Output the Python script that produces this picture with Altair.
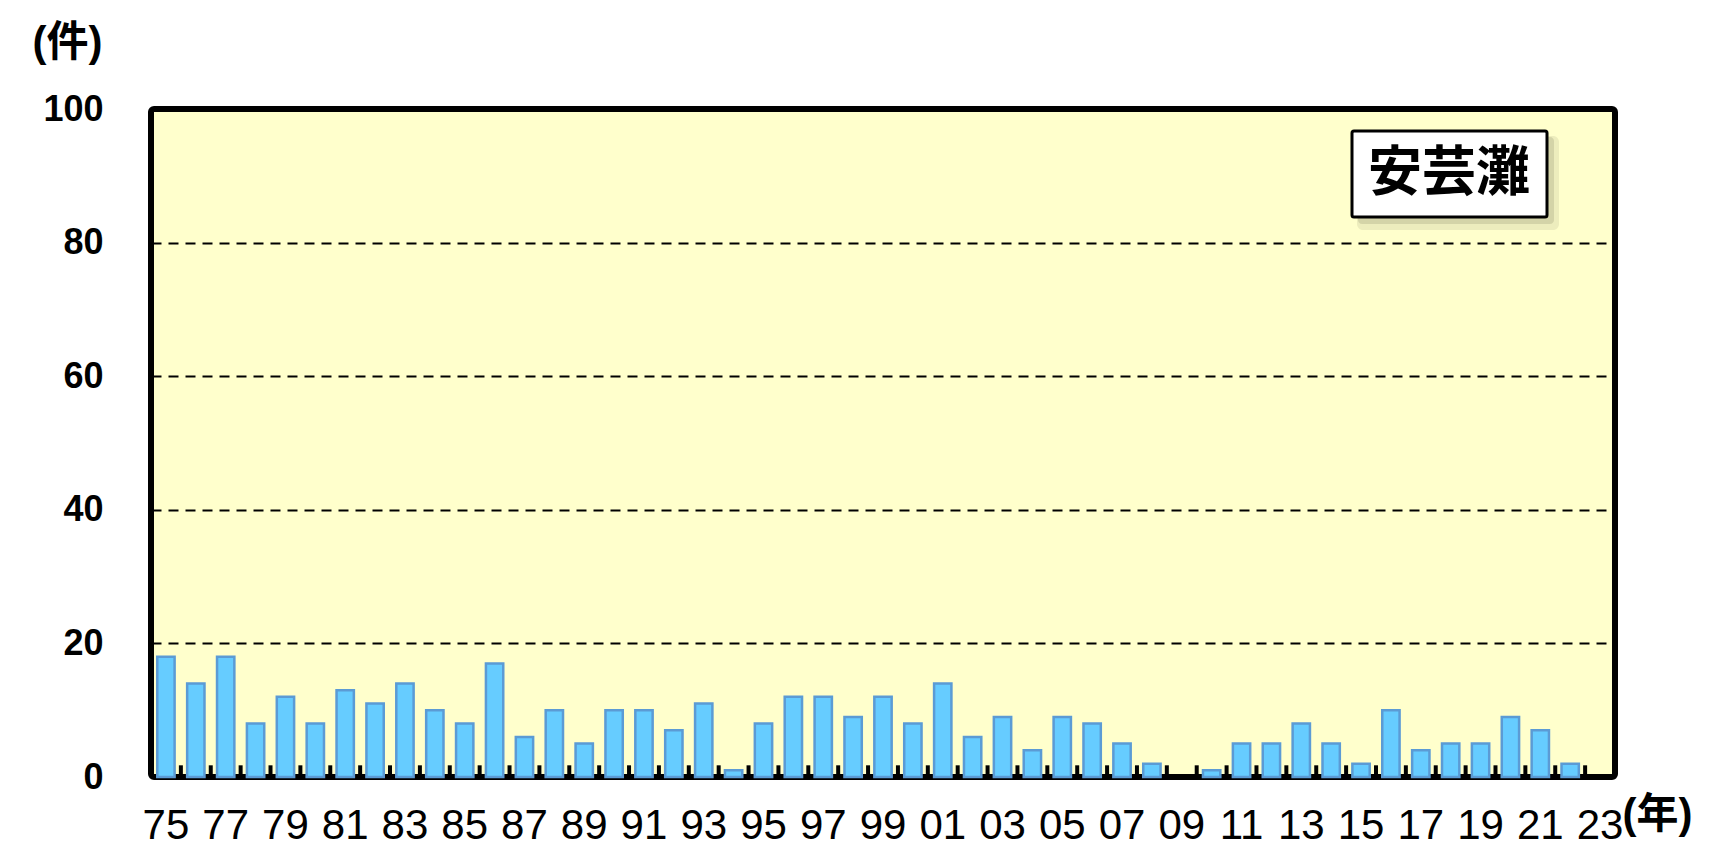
import altair as alt
import pandas as pd

years = ["75", "76", "77", "78", "79", "80", "81", "82", "83", "84",
         "85", "86", "87", "88", "89", "90", "91", "92", "93", "94",
         "95", "96", "97", "98", "99", "00", "01", "02", "03", "04",
         "05", "06", "07", "08", "09", "10", "11", "12", "13", "14",
         "15", "16", "17", "18", "19", "20", "21", "22", "23"]
counts = [18, 14, 18, 8, 12, 8, 13, 11, 14, 10,
          8, 17, 6, 10, 5, 10, 10, 7, 11, 1,
          8, 12, 12, 9, 12, 8, 14, 6, 9, 4,
          9, 8, 5, 2, 0, 1, 5, 5, 8, 5,
          2, 10, 4, 5, 5, 9, 7, 2, 0]
tick_labels = ["75", "77", "79", "81", "83", "85", "87", "89", "91", "93",
               "95", "97", "99", "01", "03", "05", "07", "09", "11", "13",
               "15", "17", "19", "21", "23"]
y_ticks = [0, 20, 40, 60, 80, 100]
area_name = "安芸灘"

W, H = 1464, 668
PAD_INNER = 0.42
STEP = W / len(years)

df = pd.DataFrame({"year": years, "count": counts})
df_ticks = pd.DataFrame({"year": years[:-1]})
df_label = pd.DataFrame({"label": [area_name]})

num_font = "Liberation Sans, Arial, Noto Sans CJK JP"
cjk_font = "Noto Sans CJK JP"

xscale = alt.Scale(domain=years, paddingInner=PAD_INNER, paddingOuter=PAD_INNER / 2)

x_enc = alt.X(
    "year:N", sort=years, scale=xscale,
    axis=alt.Axis(
        values=tick_labels, labelAngle=0, ticks=False, domain=False,
        labelFont=num_font, labelFontSize=42, labelColor="black",
        labelPadding=28, grid=False,
        title="(年)", titleFont=num_font, titleFontSize=42,
        titleFontWeight="bold", titleColor="black",
        titleAlign="left", titleBaseline="top",
        titleX=1471, titleY=17, titleAngle=0,
    ),
)

y_enc = alt.Y(
    "count:Q",
    scale=alt.Scale(domain=[0, 100], nice=False, zero=True),
    axis=alt.Axis(
        values=y_ticks, ticks=False, domain=False,
        labelFont=num_font, labelFontSize=36, labelFontWeight="bold",
        labelColor="black", labelPadding=48,
        grid=True, gridColor="black", gridDash=[10, 7], gridWidth=2,
        gridOpacity=1,
        title="(件)", titleFont=num_font, titleFontSize=42,
        titleFontWeight="bold", titleColor="black", titleAngle=0,
        titleAlign="left", titleBaseline="top", titleX=-119, titleY=-87,
    ),
)

bars = alt.Chart(df).transform_filter("datum.count > 0").mark_bar(
    color="#66CCFF", stroke="#5B9BD5", strokeWidth=2.5
).encode(x=x_enc, y=y_enc)

ticks = alt.Chart(df_ticks).mark_rule(
    color="black", strokeWidth=4, xOffset=PAD_INNER * STEP / 2
).encode(
    x=alt.X("year:N", sort=years, bandPosition=1),
    y=alt.datum(0),
    y2=alt.datum(1.75),
)

shadow1 = alt.Chart(df_label).mark_rect(
    fill="#9A9A78", opacity=0.18, cornerRadius=6
).encode(x=alt.value(1206), x2=alt.value(1408), y=alt.value(27), y2=alt.value(121))
shadow2 = alt.Chart(df_label).mark_rect(
    fill="#9A9A78", opacity=0.3, cornerRadius=4
).encode(x=alt.value(1207), x2=alt.value(1403), y=alt.value(28), y2=alt.value(115))
box = alt.Chart(df_label).mark_rect(
    fill="white", stroke="black", strokeWidth=3, cornerRadius=2
).encode(x=alt.value(1201), x2=alt.value(1396), y=alt.value(22), y2=alt.value(108))
label = alt.Chart(df_label).mark_text(
    font=cjk_font, fontSize=54, fontWeight="bold", color="black",
    align="center", baseline="middle"
).encode(x=alt.value(1298), y=alt.value(66), text="label:N")

chart = alt.layer(bars, ticks, shadow1, shadow2, box, label).properties(
    width=W, height=H,
    background="white",
    autosize=alt.AutoSizeParams(type="none"),
    padding={"left": 143, "top": 101, "right": 100, "bottom": 80},
).configure_view(
    fill="#FFFFCC", stroke="black", strokeWidth=6, cornerRadius=3
)

chart.save("out.html", embed_options={"renderer": "svg", "actions": False})
